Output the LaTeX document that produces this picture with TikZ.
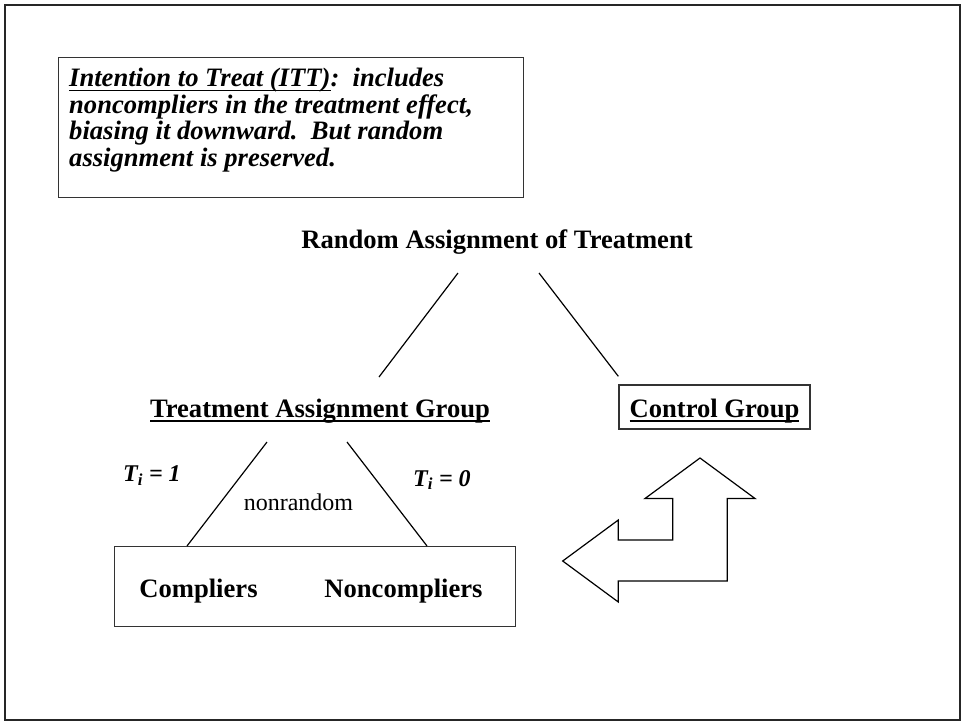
\documentclass[tikz,border=0pt]{standalone}
\usepackage{fontspec}
\setmainfont{Liberation Serif}
\usetikzlibrary{calc}

% underline drawn as a rule a few points below the baseline
\newlength\ulwidth
\newcommand\ulword[1]{\settowidth\ulwidth{#1}\rlap{\rule[-4.6pt]{\ulwidth}{1.8pt}}#1}

\tikzset{
  frame/.style={draw=black!85, line width=2pt},
  boxed/.style={draw=black!80, line width=1.3pt, inner sep=0pt},
  heading/.style={font=\fontsize{26.6}{30}\selectfont\bfseries, inner sep=0pt, anchor=base},
  note/.style={font=\fontsize{26.6}{26.5}\selectfont\bfseries\itshape, inner sep=0pt, anchor=base west},
  tlabel/.style={font=\fontsize{24}{26}\selectfont\bfseries\itshape, inner sep=0pt, anchor=base west},
  plain/.style={font=\fontsize{24}{26}\selectfont, inner sep=0pt, anchor=base},
  link/.style={draw=black, line width=1.2pt},
  bent/.style={draw=black, line width=1.2pt, line join=miter, fill=white},
}

\begin{document}
\begin{tikzpicture}[x=1pt, y=-1pt]
\useasboundingbox (0,0) rectangle (961,721);
\draw[frame] (4.5,4.5) rectangle (959.5,719.5);

% intention-to-treat note
\node[boxed, anchor=north west, minimum width=465pt, minimum height=140pt] (ittbox) at (58,57) {};
\node[note] (itttext) at (69,86.7) {\vtop{\baselineskip=26.6pt
  \hbox{\ulword{Intention to Treat (ITT)}:\ \ includes}
  \hbox{noncompliers in the treatment effect,}
  \hbox{biasing it downward.\ \ But random}
  \hbox{assignment is preserved.}}};

% top of the tree
\node[heading] (rand) at (497,248) {Random Assignment of Treatment};
\node[heading] (tag) at (320,417) {\ulword{Treatment Assignment Group}};
\node[heading, boxed, text height=32pt, text depth=12pt, minimum width=191pt] (ctrl) at (714.5,417) {\ulword{Control Group}};

\draw[link] ($(rand.base)+(-39,25)$) -- ($(tag.base)+(59,-40)$);
\draw[link] ($(rand.base)+(42,25)$) -- ($(ctrl.north west)+(0,-8)$);

% compliance split
\node[boxed, anchor=north west, minimum width=401pt, minimum height=80pt] (split) at (114,546) {};
\node[heading] (comp) at (198.5,597) {Compliers};
\node[heading] (noncomp) at (403.5,597) {Noncompliers};

\draw[link] ($(tag.base)+(-53,25)$) -- ($(split.north west)+(73,0)$);
\draw[link] ($(tag.base)+(27,25)$) -- ($(split.north west)+(313,0)$);

\node[tlabel] (tone) at (123,481.7) {T\textsubscript{i} = 1};
\node[tlabel] (tzero) at (413,486) {T\textsubscript{i} = 0};
\node[plain] (nonrand) at (298.5,510) {nonrandom};

% bent two-way arrow
\draw[bent] (700,458) -- (755,498.5) -- (727.3,498.5) -- (727.3,581) -- (618.3,581)
  -- (618.3,602) -- (562.7,561) -- (618.3,520) -- (618.3,540) -- (672.7,540)
  -- (672.7,498.5) -- (645,498.5) -- cycle;
\end{tikzpicture}
\end{document}
